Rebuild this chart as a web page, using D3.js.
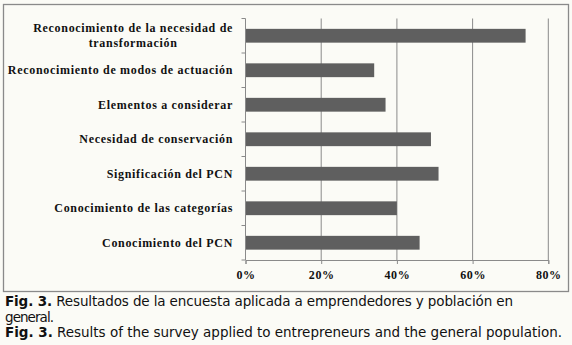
<!DOCTYPE html>
<html>
<head>
<meta charset="utf-8">
<script src="https://cdn.jsdelivr.net/npm/d3@7/dist/d3.min.js"></script>
<style>
  html, body { margin: 0; padding: 0; background: #fbfbf6; }
  svg { display: block; }
</style>
</head>
<body>
<svg id="chart" width="572" height="345"></svg>
<script>
// Survey results: share of respondents per item
const categories = [
  ["Reconocimiento de la necesidad de", "transformación"],
  ["Reconocimiento de modos de actuación"],
  ["Elementos a considerar"],
  ["Necesidad de conservación"],
  ["Significación del PCN"],
  ["Conocimiento de las categorías"],
  ["Conocimiento del PCN"]
];
const values = [0.74, 0.34, 0.37, 0.49, 0.51, 0.40, 0.46];
const xTicks = [0, 0.2, 0.4, 0.6, 0.8];
const captionEs = ["Resultados de la encuesta aplicada a emprendedores y población en", "general."];
const captionEn = ["Results of the survey applied to entrepreneurs and the general population."];
const figLabel = "Fig. 3.";

const svg = d3.select("#chart");
const plot = { left: 245.5, right: 548.3, top: 18.5, bottom: 260 };
const serif = "'Liberation Serif', serif";

// chart frame
svg.append("rect")
  .attr("x", 3.5).attr("y", 4.5).attr("width", 565).attr("height", 287)
  .attr("fill", "#fbfbf6").attr("stroke", "#8a8a8a").attr("stroke-width", 1.3);

const x = d3.scaleLinear().domain([0, 0.8]).range([plot.left, plot.right]);
const y = d3.scaleBand().domain(d3.range(categories.length))
  .range([plot.top, plot.bottom]).paddingInner(0.6).paddingOuter(0.3);

// vertical gridlines
svg.append("g").selectAll("line").data(xTicks.slice(1)).join("line")
  .attr("x1", d => x(d)).attr("x2", d => x(d))
  .attr("y1", plot.top).attr("y2", plot.bottom)
  .attr("stroke", "#8a8a8a").attr("stroke-width", 1);

// bars
svg.append("g").selectAll("rect").data(values).join("rect")
  .attr("x", x(0))
  .attr("y", (d, i) => y(i))
  .attr("width", d => x(d) - x(0))
  .attr("height", y.bandwidth())
  .attr("fill", "#5f5f5f");

// x axis
const xAxis = d3.axisBottom(x).tickValues(xTicks)
  .tickFormat(d3.format(".0%")).tickSize(4).tickPadding(6);
const gx = svg.append("g").attr("transform", `translate(0,${plot.bottom})`).call(xAxis);
gx.select(".domain").attr("stroke", "#8a8a8a");
gx.selectAll(".tick line").attr("stroke", "#8a8a8a");
gx.selectAll(".tick text")
  .attr("font-family", serif).attr("font-weight", "bold")
  .attr("font-size", 12).attr("letter-spacing", 0.6).attr("fill", "#111");

// y axis line with ticks at band boundaries
const bounds = d3.range(categories.length + 1).map(i => plot.top + i * (plot.bottom - plot.top) / categories.length);
svg.append("line")
  .attr("x1", plot.left).attr("x2", plot.left)
  .attr("y1", plot.top).attr("y2", plot.bottom)
  .attr("stroke", "#8a8a8a");
svg.append("g").selectAll("line").data(bounds).join("line")
  .attr("x1", plot.left - 4).attr("x2", plot.left)
  .attr("y1", d => d).attr("y2", d => d)
  .attr("stroke", "#8a8a8a");

// category labels, right-aligned against the axis; wrapped lines centred under the first
const labels = svg.append("g")
  .attr("font-family", serif).attr("font-weight", "bold")
  .attr("font-size", 12).attr("letter-spacing", 0.68).attr("fill", "#111");
const labelRight = 233;
categories.forEach((lines, i) => {
  const cy = y(i) + y.bandwidth() / 2;
  const lh = 15;
  const first = labels.append("text").attr("text-anchor", "end")
    .attr("x", labelRight)
    .attr("y", cy + 4 - (lines.length - 1) * lh / 2).text(lines[0]);
  if (lines.length > 1) {
    const w0 = first.node().getComputedTextLength();
    labels.append("text").attr("text-anchor", "middle")
      .attr("x", labelRight - w0 / 2).attr("y", cy + 4 + lh / 2).text(lines[1]);
  }
});

// caption
const cap = svg.append("g").attr("font-family", "'DejaVu Sans', Verdana, sans-serif")
  .attr("font-size", 13.5).attr("fill", "#111");
function capLine(yPos, text, withFig, len) {
  const t = cap.append("text").attr("x", 5).attr("y", yPos);
  if (withFig) {
    t.append("tspan").attr("font-weight", "bold").text(figLabel);
    t.append("tspan").text(" " + text);
  } else {
    t.text(text);
  }
  if (len) t.attr("textLength", len).attr("lengthAdjust", "spacing");
}
capLine(306, captionEs[0], true, 508);
capLine(321.5, captionEs[1], false, 49);
capLine(337, captionEn[0], true, 557);
</script>
</body>
</html>
